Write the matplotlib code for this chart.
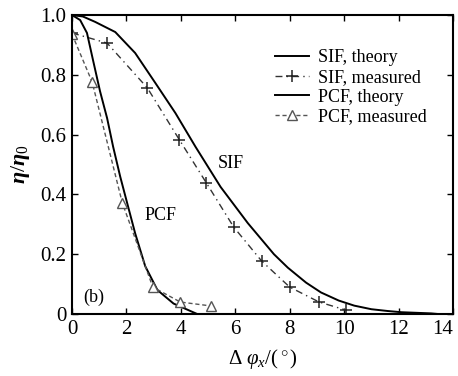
import matplotlib
matplotlib.use("Agg")
import matplotlib.pyplot as plt
from matplotlib.ticker import FuncFormatter

# ── Data ────────────────────────────────────────────────────────────────
sif_theory_x = [0, 0.4, 0.85, 1.59, 2.32, 3.06, 3.8, 4.54, 5.46, 6.46, 7.42,
                7.93, 8.6, 9.15, 9.8, 10.37, 11.0, 11.6, 12.1, 13.2, 13.45]
sif_theory_y = [1.0, 0.995, 0.977, 0.943, 0.873, 0.773, 0.672, 0.559, 0.425,
                0.304, 0.20, 0.155, 0.105, 0.072, 0.045, 0.028, 0.016, 0.01,
                0.006, 0.002, 0.0]

sif_meas_x = [0, 1.29, 2.77, 3.95, 4.94, 5.94, 6.97, 8.0, 9.08, 10.07]
sif_meas_y = [0.94, 0.906, 0.756, 0.582, 0.438, 0.291, 0.177, 0.09, 0.04, 0.013]

pcf_theory_x = [0, 0.3, 0.55, 0.77, 1.03, 1.29, 1.51, 1.77, 2.03, 2.32,
                2.69, 3.14, 3.73, 4.35, 4.6]
pcf_theory_y = [1.0, 0.983, 0.94, 0.85, 0.745, 0.655, 0.56, 0.46, 0.37, 0.27,
                0.16, 0.08, 0.035, 0.01, 0.0]

pcf_meas_x = [0, 0.74, 1.85, 2.97, 3.98, 5.1]
pcf_meas_y = [0.936, 0.776, 0.371, 0.09, 0.04, 0.027]

x_ticks = [0, 2, 4, 6, 8, 10, 12, 14]
y_ticks = [0, 0.2, 0.4, 0.6, 0.8, 1.0]

# ── Style ───────────────────────────────────────────────────────────────
plt.rcParams["font.family"] = ["Liberation Serif", "DejaVu Serif"]
plt.rcParams["mathtext.fontset"] = "custom"
plt.rcParams["mathtext.rm"] = "Liberation Serif"
plt.rcParams["mathtext.it"] = "Liberation Serif:italic"
plt.rcParams["mathtext.bf"] = "Liberation Serif:bold"
plt.rcParams["mathtext.bfit"] = "Liberation Serif:italic:bold"

fig = plt.figure(figsize=(4.58, 3.76), dpi=100)
ax = fig.add_axes([72 / 458, 1 - 314 / 376, 381 / 458, 299 / 376])

ax.plot(sif_theory_x, sif_theory_y, color="black", lw=1.4, label="SIF, theory")
ax.plot(sif_meas_x, sif_meas_y, color="#333333", lw=1.0, dashes=(5, 3, 1, 3),
        marker="+", ms=8, mew=1.1, mec="#222222", label="SIF, measured")
ax.plot(pcf_theory_x, pcf_theory_y, color="black", lw=1.4, label="PCF, theory")
ax.plot(pcf_meas_x, pcf_meas_y, color="#555555", lw=1.0, dashes=(3, 2),
        marker="^", ms=7, mew=1.0, mfc="white", mec="#555555",
        label="PCF, measured")

ax.set_xlim(0, 14)
ax.set_ylim(0, 1.0)
ax.set_xticks(x_ticks)
ax.set_yticks(y_ticks)
ax.yaxis.set_major_formatter(FuncFormatter(lambda v, p: "0" if v == 0 else f"{v:.1f}"))
ax.tick_params(direction="in", top=True, right=True, labelsize=15,
               length=4, width=1.0, pad=4)
ax.get_xticklabels()[-1].set_horizontalalignment("right")
for s in ax.spines.values():
    s.set_linewidth(1.5)

ax.set_xlabel(r"$\Delta\ \varphi_x/(^\circ)$", fontsize=15, labelpad=6)
ax.set_ylabel(r"$\mathbfit{\eta}/\mathbfit{\eta}_0$", fontsize=16, labelpad=6)

ax.text(5.35, 0.505, "SIF", fontsize=13, ha="left", va="center")
ax.text(3.25, 0.33, "PCF", fontsize=13, ha="center", va="center")
ax.text(0.81, 0.057, "(b)", fontsize=13, ha="center", va="center")

ax.legend(loc="upper left", bbox_to_anchor=(0.533, 0.885), frameon=False,
          fontsize=13, handlelength=1.9, handletextpad=0.45,
          labelspacing=0.15, borderpad=0, borderaxespad=0)

fig.savefig("out.png", dpi=100)
